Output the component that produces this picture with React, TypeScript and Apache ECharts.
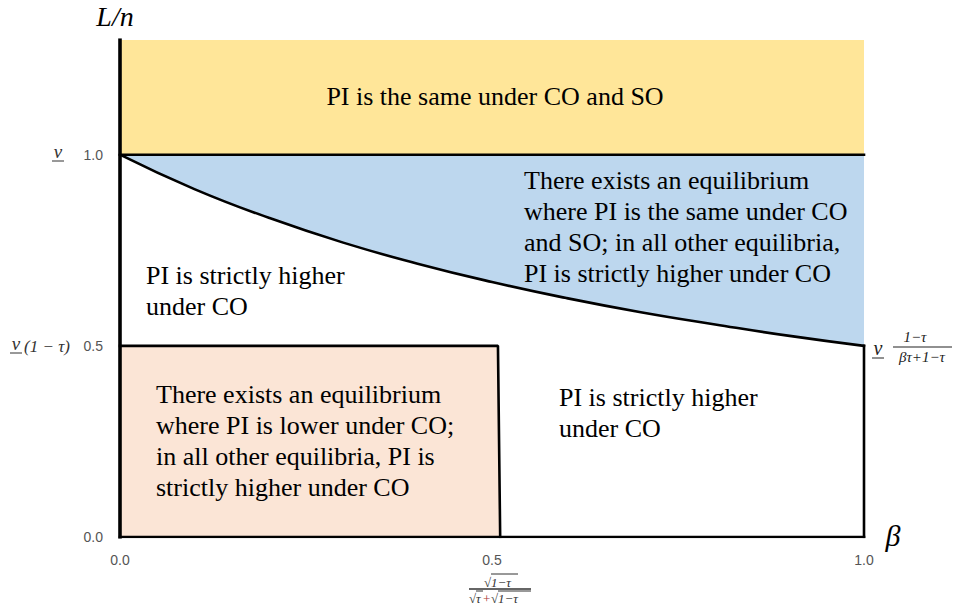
import React, { useEffect, useRef } from "react";
import * as echarts from "echarts";

// β values read along the curve and the boundary L/n
const betaValues = [0, 0.1, 0.2, 0.3, 0.4, 0.5, 0.6, 0.7, 0.8, 0.9, 1.0];
const curveValues = [1.0, 0.91, 0.835, 0.77, 0.715, 0.667, 0.625, 0.588, 0.556, 0.526, 0.5];

const xTicks = [0, 0.5, 1.0];
const yTicks = [0, 0.5, 1.0];

const upperLevel = 1.0;
const topLevel = 1.3;
const lowerLevel = 0.5;
const pinkRightTop = 0.508;
const pinkRightBottom = 0.511;

const yellowRegion = [[0, upperLevel], [1, upperLevel], [1, topLevel], [0, topLevel]];
const pinkRegion = [[0, 0], [pinkRightBottom, 0], [pinkRightTop, lowerLevel], [0, lowerLevel]];
const curvePoints = betaValues.map((b, i) => [b, curveValues[i]]);
const blueRegion = [...curvePoints, [1, upperLevel]];

const textBlocks = [
  { x: 495, y: 96, align: "center", lines: ["PI is the same under CO and SO"] },
  {
    x: 524, y: 180, align: "left",
    lines: ["There exists an equilibrium", "where PI is the same under CO", "and SO; in all other equilibria,", "PI is strictly higher under CO"],
  },
  { x: 146, y: 275, align: "left", lines: ["PI is strictly higher", "under CO"] },
  {
    x: 156, y: 394, align: "left",
    lines: ["There exists an equilibrium", "where PI is lower under CO;", "in all other equilibria, PI is", "strictly higher under CO"],
  },
  { x: 559, y: 397, align: "left", lines: ["PI is strictly higher", "under CO"] },
];

const SERIF = "'Liberation Serif', 'Times New Roman', serif";
const SANS = "'Liberation Sans', Arial, sans-serif";

function txt(text: string, x: number, y: number, size: number, opts: any = {}) {
  return {
    type: "text",
    z: 100,
    style: {
      text,
      x,
      y,
      font: `${opts.italic ? "italic " : ""}${size}px ${opts.family || SERIF}`,
      fill: opts.fill || "#000",
      textAlign: opts.align || "left",
      textVerticalAlign: "middle",
    },
  };
}

function ln(x1: number, y1: number, x2: number, y2: number, w = 1.2, c = "#222") {
  return {
    type: "line",
    z: 100,
    shape: { x1, y1, x2, y2 },
    style: { stroke: c, lineWidth: w },
  };
}

export default function App() {
  const ref = useRef<HTMLDivElement>(null);

  useEffect(() => {
    if (!ref.current) return;
    const chart = echarts.init(ref.current, undefined, { renderer: "svg" });

    const regions = [
      { pts: yellowRegion, color: "#FFE699" },
      { pts: blueRegion, color: "#BDD7EE" },
      { pts: pinkRegion, color: "#FBE5D6" },
    ];

    const graphics: any[] = [];
    textBlocks.forEach((b) => {
      b.lines.forEach((l, i) => {
        graphics.push(txt(l, b.x, b.y + i * 31, 26, { align: b.align }));
      });
    });

    // axis names
    graphics.push(txt("L/n", 115, 16, 28, { italic: true, align: "center" }));
    graphics.push(txt("β", 893, 535, 30, { italic: true, align: "center" }));

    // left labels
    graphics.push(txt("v", 58, 151, 19, { italic: true, align: "center", fill: "#333" }));
    graphics.push(ln(52, 161, 64, 161, 1, "#333"));
    graphics.push(txt("v", 16, 343, 19, { italic: true, align: "center", fill: "#333" }));
    graphics.push(ln(10, 353, 22, 353, 1, "#333"));
    graphics.push(txt("(1 − τ)", 24, 346, 17, { italic: true, fill: "#333" }));

    // right fraction label
    graphics.push(txt("v", 878, 348, 20, { italic: true, align: "center", fill: "#222" }));
    graphics.push(ln(872, 358, 884, 358, 1, "#222"));
    graphics.push(txt("1−τ", 915, 337, 15, { italic: true, align: "center", fill: "#222" }));
    graphics.push(ln(893, 347, 952, 347, 1.2, "#222"));
    graphics.push(txt("βτ+1−τ", 922, 357, 15, { italic: true, align: "center", fill: "#222" }));

    // bottom fraction label
    graphics.push(txt("√", 484, 582, 13, { fill: "#333" }));
    graphics.push(txt("1−τ", 491, 582, 13, { italic: true, fill: "#333" }));
    graphics.push(ln(491, 574, 518, 574, 1, "#333"));
    graphics.push(ln(469, 589, 531, 589, 1.8, "#666"));
    graphics.push(txt("√", 469, 598, 13, { fill: "#333" }));
    graphics.push(txt("τ", 476, 598, 13, { italic: true, fill: "#333" }));
    graphics.push(ln(476, 591, 483, 591, 1, "#333"));
    graphics.push(txt("+", 483, 598, 13, { fill: "#a33" }));
    graphics.push(txt("√", 491, 598, 13, { fill: "#333" }));
    graphics.push(txt("1−τ", 498, 598, 13, { italic: true, fill: "#333" }));
    graphics.push(ln(498, 591, 531, 591, 1, "#333"));

    const border = (data: number[][], width = 2.6, smooth = false) => ({
      type: "line",
      data,
      smooth,
      showSymbol: false,
      silent: true,
      z: 5,
      lineStyle: { color: "#000", width, cap: "square" },
    });

    chart.setOption({
      animation: false,
      backgroundColor: "#fff",
      grid: { left: 120, right: 89, top: 40, bottom: 72, containLabel: false },
      xAxis: {
        type: "value",
        min: 0,
        max: 1,
        interval: 0.5,
        axisLine: { show: false },
        axisTick: { show: false },
        splitLine: { show: false },
        axisLabel: {
          margin: 16,
          color: "#555",
          fontFamily: SANS,
          fontSize: 14,
          formatter: (v: number) => (xTicks.some((t) => Math.abs(t - v) < 1e-9) ? v.toFixed(1) : ""),
        },
      },
      yAxis: {
        type: "value",
        min: 0,
        max: topLevel,
        interval: 0.5,
        axisLine: { show: false },
        axisTick: { show: false },
        splitLine: { show: false },
        axisLabel: {
          margin: 17,
          color: "#555",
          fontFamily: SANS,
          fontSize: 14,
          showMaxLabel: false,
          formatter: (v: number) => (yTicks.some((t) => Math.abs(t - v) < 1e-9) ? v.toFixed(1) : ""),
        },
      },
      series: [
        {
          type: "custom",
          coordinateSystem: "cartesian2d",
          silent: true,
          z: 1,
          data: regions.map(() => [0, 0]),
          renderItem: (params: any, api: any) => {
            const r = regions[params.dataIndex];
            return {
              type: "polygon",
              shape: { points: r.pts.map((p) => api.coord(p)) },
              style: { fill: r.color },
            };
          },
        },
        border([[0, upperLevel], [1, upperLevel]]),
        border(curvePoints, 2.6, true),
        border([[0, lowerLevel], [pinkRightTop, lowerLevel], [pinkRightBottom, 0]]),
        border([[1, lowerLevel], [1, 0]]),
        border([[0, 0], [1, 0]]),
        border([[0, 0], [0, topLevel]], 3.6),
      ],
      graphic: graphics,
    });

    return () => chart.dispose();
  }, []);

  return (
    <div
      ref={ref}
      style={{ position: "fixed", left: 0, top: 0, width: 953, height: 609, background: "#fff" }}
    />
  );
}
